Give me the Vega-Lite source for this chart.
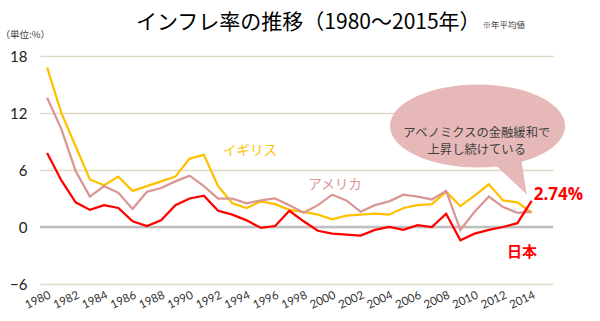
{
  "$schema": "https://vega.github.io/schema/vega-lite/v6.json",
  "width": 513,
  "height": 228,
  "autosize": {"type": "none"},
  "padding": {"left": 40, "top": 56, "right": 47, "bottom": 37},
  "background": "white",
  "title": {"text": "インフレ率の推移（1980～2015年）", "anchor": "start", "frame": "group", "dx": 96, "offset": -12, "fontSize": 21, "font": "Noto Sans CJK JP", "fontWeight": "normal", "color": "#000000"},
  "config": {
    "view": {"stroke": null},
    "axisX": {"grid": false, "domain": false, "ticks": false, "labelAngle": -25, "labelAlign": "right", "labelBaseline": "top", "labelPadding": 5, "labelFont": "Lato", "labelFontSize": 11.5, "labelColor": "#333333", "labelFlush": false, "labelOverlap": false},
    "axisY": {"grid": true, "gridColor": "#DDD9C3", "gridWidth": 1.5, "domain": false, "ticks": false, "labelPadding": 13, "labelFont": "Lato", "labelFontSize": 15, "labelColor": "#222222", "titleAngle": 0, "titleAlign": "left", "titleBaseline": "middle", "titleX": -40, "titleY": -22, "titleFont": "Noto Sans CJK JP", "titleFontSize": 9.5, "titleFontWeight": "normal", "titleColor": "#404040"}
  },
  "data": {"values": [
    {"year": 1980, "uk": 16.8, "us": 13.6, "jp": 7.8},
    {"year": 1981, "uk": 12.0, "us": 10.3, "jp": 4.9},
    {"year": 1982, "uk": 8.5, "us": 5.9, "jp": 2.6},
    {"year": 1983, "uk": 5.0, "us": 3.2, "jp": 1.8},
    {"year": 1984, "uk": 4.4, "us": 4.3, "jp": 2.3},
    {"year": 1985, "uk": 5.3, "us": 3.6, "jp": 2.0},
    {"year": 1986, "uk": 3.8, "us": 1.9, "jp": 0.6},
    {"year": 1987, "uk": 4.3, "us": 3.7, "jp": 0.1},
    {"year": 1988, "uk": 4.8, "us": 4.1, "jp": 0.7},
    {"year": 1989, "uk": 5.3, "us": 4.8, "jp": 2.3},
    {"year": 1990, "uk": 7.2, "us": 5.4, "jp": 3.0},
    {"year": 1991, "uk": 7.6, "us": 4.3, "jp": 3.3},
    {"year": 1992, "uk": 4.3, "us": 3.0, "jp": 1.7},
    {"year": 1993, "uk": 2.5, "us": 3.0, "jp": 1.3},
    {"year": 1994, "uk": 2.0, "us": 2.5, "jp": 0.7},
    {"year": 1995, "uk": 2.7, "us": 2.8, "jp": -0.1},
    {"year": 1996, "uk": 2.4, "us": 3.0, "jp": 0.1},
    {"year": 1997, "uk": 1.8, "us": 2.3, "jp": 1.7},
    {"year": 1998, "uk": 1.6, "us": 1.5, "jp": 0.6},
    {"year": 1999, "uk": 1.3, "us": 2.3, "jp": -0.4},
    {"year": 2000, "uk": 0.8, "us": 3.4, "jp": -0.7},
    {"year": 2001, "uk": 1.2, "us": 2.8, "jp": -0.8},
    {"year": 2002, "uk": 1.3, "us": 1.6, "jp": -0.9},
    {"year": 2003, "uk": 1.4, "us": 2.3, "jp": -0.3},
    {"year": 2004, "uk": 1.3, "us": 2.7, "jp": 0.0},
    {"year": 2005, "uk": 2.0, "us": 3.4, "jp": -0.3},
    {"year": 2006, "uk": 2.3, "us": 3.2, "jp": 0.2},
    {"year": 2007, "uk": 2.4, "us": 2.9, "jp": 0.0},
    {"year": 2008, "uk": 3.7, "us": 3.8, "jp": 1.4},
    {"year": 2009, "uk": 2.2, "us": -0.3, "jp": -1.4},
    {"year": 2010, "uk": 3.3, "us": 1.6, "jp": -0.7},
    {"year": 2011, "uk": 4.5, "us": 3.2, "jp": -0.3},
    {"year": 2012, "uk": 2.8, "us": 2.1, "jp": 0.0},
    {"year": 2013, "uk": 2.6, "us": 1.5, "jp": 0.4},
    {"year": 2014, "uk": 1.5, "us": 1.6, "jp": 2.74}
  ]},
  "layer": [
    {
      "data": {"values": [{}]},
      "mark": {"type": "rule", "color": "#BFBFBF", "strokeWidth": 2.5},
      "encoding": {
        "y": {"datum": 0, "type": "quantitative",
          "scale": {"domain": [-6, 18], "nice": false, "zero": false},
          "axis": {"title": "（単位:%）", "values": [-6, 0, 6, 12, 18], "tickCount": 10}}
      }
    },
    {
      "mark": {"type": "line", "color": "#FFC000", "strokeWidth": 2.25},
      "encoding": {
        "x": {"field": "year", "type": "quantitative",
          "scale": {"domain": [1979.5, 2015.5], "nice": false, "zero": false},
          "axis": {"title": null, "format": "d", "labelOverlap": false, "tickCount": 40, "values": [1980,1982,1984,1986,1988,1990,1992,1994,1996,1998,2000,2002,2004,2006,2008,2010,2012,2014]}},
        "y": {"field": "uk", "type": "quantitative", "axis": {"title": "（単位:%）", "values": [-6, 0, 6, 12, 18], "tickCount": 10}}
      }
    },
    {
      "mark": {"type": "line", "color": "#D99694", "strokeWidth": 2.25},
      "encoding": {"x": {"field": "year", "type": "quantitative"}, "y": {"field": "us", "type": "quantitative"}}
    },
    {
      "mark": {"type": "line", "color": "#FF0000", "strokeWidth": 2.25},
      "encoding": {"x": {"field": "year", "type": "quantitative"}, "y": {"field": "jp", "type": "quantitative"}}
    },
    {
      "data": {"values": [{}]},
      "mark": {"type": "point", "shape": "M 0.218 0.449 L 0.547 0.761 L 0.49 0.398 A 0.972 0.461 0 1 0 0.218 0.449 Z", "filled": true, "size": 32400, "color": "#E6B9B8", "opacity": 1, "strokeWidth": 0},
      "encoding": {"x": {"datum": 2010.2, "type": "quantitative"}, "y": {"datum": 10.63, "type": "quantitative"}}
    },
    {
      "data": {"values": [{}]},
      "mark": {"type": "text", "text": ["アベノミクスの金融緩和で", "上昇し続けている"], "lineHeight": 17, "font": "Noto Sans CJK JP", "fontSize": 12.3, "color": "#404040", "align": "center", "baseline": "middle"},
      "encoding": {"x": {"datum": 2010.15, "type": "quantitative"}, "y": {"datum": 9.9, "type": "quantitative"}}
    },
    {
      "data": {"values": [{}]},
      "mark": {"type": "text", "text": "イギリス", "font": "Noto Sans CJK JP", "fontSize": 13.5, "color": "#FFC000", "align": "center", "baseline": "middle"},
      "encoding": {"x": {"datum": 1994.24, "type": "quantitative"}, "y": {"datum": 8.0, "type": "quantitative"}}
    },
    {
      "data": {"values": [{}]},
      "mark": {"type": "text", "text": "アメリカ", "font": "Noto Sans CJK JP", "fontSize": 13.5, "color": "#D99694", "align": "center", "baseline": "middle"},
      "encoding": {"x": {"datum": 2000.2, "type": "quantitative"}, "y": {"datum": 4.45, "type": "quantitative"}}
    },
    {
      "data": {"values": [{}]},
      "mark": {"type": "text", "text": "日本", "font": "Noto Sans CJK JP", "fontSize": 15, "fontWeight": "bold", "color": "#FF0000", "align": "center", "baseline": "middle"},
      "encoding": {"x": {"datum": 2013.33, "type": "quantitative"}, "y": {"datum": -2.6, "type": "quantitative"}}
    },
    {
      "data": {"values": [{}]},
      "mark": {"type": "text", "text": "2.74%", "font": "Open Sans", "fontSize": 17, "fontWeight": "bold", "color": "#FF0000", "align": "left", "baseline": "middle"},
      "encoding": {"x": {"datum": 2014.15, "type": "quantitative"}, "y": {"datum": 3.4, "type": "quantitative"}}
    },
    {
      "data": {"values": [{}]},
      "mark": {"type": "text", "text": "※年平均値", "font": "Noto Sans CJK JP", "fontSize": 8.5, "color": "#404040", "align": "left", "baseline": "middle"},
      "encoding": {"x": {"datum": 2010.55, "type": "quantitative"}, "y": {"datum": 21.3, "type": "quantitative"}}
    }
  ]
}
